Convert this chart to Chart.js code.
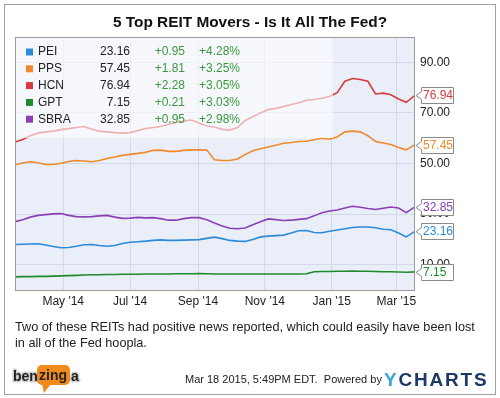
<!DOCTYPE html>
<html>
<head>
<meta charset="utf-8">
<script src="https://cdn.jsdelivr.net/npm/chart.js@4.4.1/dist/chart.umd.min.js"></script>
<style>
html,body{margin:0;padding:0;background:#fff;}
#wrap{position:relative;width:500px;height:398px;}
</style>
</head>
<body>
<div id="wrap"><canvas id="c" width="500" height="398"></canvas></div>
<script>
// x = days since Mar 18 2014 (weekly readings + last close)
const days = [0,7,14,21,28,35,42,49,56,63,70,77,84,91,98,105,112,119,126,133,140,147,154,161,168,175,182,189,196,203,210,217,224,231,238,245,252,259,266,273,280,287,294,301,308,315,322,329,336,343,350,357,365];
const tickDays = [44,105,167,228,289,348];
const tickLabels = ["May '14","Jul '14","Sep '14","Nov '14","Jan '15","Mar '15"];
const yTicks = [10,30,50,70,90];

const symbols = ['PEI','PPS','HCN','GPT','SBRA'];
const lastPrice = ['23.16','57.45','76.94','7.15','32.85'];
const changes = ['+0.95','+1.81','+2.28','+0.21','+0.95'];
const pctChanges = ['+4.28%','+3.25%','+3.05%','+3.03%','+2.98%'];
const colors = ['#2b8bd8','#f08a2a','#d43b3b','#1f8a2b','#8a40b4'];

const pei  = [18,18.1,18.2,18.3,17.8,17.2,16.7,16.8,17.3,17.9,18,17.6,17.3,17.6,18.4,18.9,19.1,19.3,19.6,19.8,19.6,19.6,19.7,19.8,19.9,20.4,20.9,20.3,19.6,19.3,19.2,20,21,21.3,21.5,21.7,22.5,23.4,23.5,22.7,22.6,23.2,23.7,24.2,24.7,24.9,24.9,24.6,24,23.8,22.5,21,23.16];
const pps  = [49.5,50.2,50.7,50.3,49.6,49.6,50.1,50.8,51.2,51,50.7,51.2,52,52.6,53.2,53.6,54,54.4,55.2,55.3,54.8,54.8,55.2,55.4,55.4,55.3,51.5,51.2,51.2,51.8,53.5,55,55.8,56.5,57.2,58,58.3,58.7,58.8,59.4,60,59.6,60.5,62.5,62.8,62.5,61,58.7,58.1,57.5,56.3,55.4,57.45];
const hcn  = [58.5,59.5,61,62,62.5,62.8,63.4,63.8,64.2,64.6,63.5,62.8,62.5,62.2,62,62.2,63,63.8,64.2,64.6,65.5,66.2,66.8,67.2,66,64.8,64.4,63.5,63.2,64.2,67,68.5,70,71.3,71.8,72.5,73.3,74,75,75.3,75.8,76.5,78,82.5,83.6,83.2,82.5,77.5,77.8,77.2,75.5,74.2,76.94];
const gpt  = [5.2,5.3,5.3,5.4,5.4,5.5,5.6,5.7,5.8,5.9,6,6,6.1,6.1,6.2,6.2,6.2,6.3,6.3,6.3,6.3,6.4,6.4,6.4,6.5,6.4,6.3,6.3,6.3,6.3,6.3,6.3,6.3,6.3,6.3,6.3,6.3,6.3,6.4,7.2,7.3,7.3,7.4,7.4,7.5,7.4,7.4,7.3,7.2,7.2,7.1,7,7.15];
const sbra = [27,27.8,28.8,29.5,29.8,30.1,30.2,29.5,29,28.9,29,29.3,29.5,28.8,28.3,28.4,28.7,28.5,28.6,28.2,27.6,27.6,28.2,28.6,28.6,27.8,26.5,25.3,24.4,24.2,24.5,25.8,27,28.1,27.8,27.5,27.6,27.9,28.2,29.3,30.5,31.2,31.6,32.4,33.1,32.7,32.2,31.8,32.3,32.8,32.4,30.6,32.85];
const series = [pei,pps,hcn,gpt,sbra];

const FONT = 'Liberation Sans, Arial, sans-serif';
Chart.defaults.font.family = FONT;
Chart.defaults.font.size = 12;
Chart.defaults.color = '#222';

// plot background + border
const frame = {
  id:'frame',
  beforeDraw(chart){
    const ctx = chart.ctx, a = chart.chartArea;
    ctx.save();
    ctx.fillStyle = '#fff'; ctx.fillRect(0,0,chart.width,chart.height);
    ctx.strokeStyle = '#a0a0a0'; ctx.lineWidth = 1;
    ctx.strokeRect(4.5,4.5,491,390);
    ctx.fillStyle = '#e9eef9';
    ctx.fillRect(a.left,a.top,a.right-a.left,a.bottom-a.top);
    ctx.restore();
  },
  afterDraw(chart){
    const ctx = chart.ctx, a = chart.chartArea;
    ctx.save();
    ctx.strokeStyle = '#9a9a9a'; ctx.lineWidth = 1;
    ctx.strokeRect(a.left+0.5,a.top+0.5,a.right-a.left-1,a.bottom-a.top);
    ctx.restore();
  }
};

// legend table overlaid on the plot
const legendBox = {
  id:'legendBox',
  afterDatasetsDraw(chart){
    const ctx = chart.ctx, a = chart.chartArea;
    ctx.save();
    ctx.fillStyle = 'rgba(255,255,255,0.6)';
    ctx.fillRect(a.left+1,a.top+1,317,100);
    ctx.font = '12px ' + FONT;
    ctx.textBaseline = 'middle';
    symbols.forEach((s,i)=>{
      const y = 52 + i*16.8;
      ctx.fillStyle = colors[i];
      ctx.fillRect(26,y-3.5,7,7);
      ctx.fillStyle = '#222';
      ctx.textAlign = 'left'; ctx.fillText(s,38,y);
      ctx.textAlign = 'right'; ctx.fillText(lastPrice[i],130,y);
      ctx.fillStyle = '#3a9a3a';
      ctx.fillText(changes[i],185,y);
      ctx.fillText(pctChanges[i],240,y);
    });
    ctx.restore();
  }
};

// last-value flags, title, footer
const extras = {
  id:'extras',
  afterDraw(chart){
    const ctx = chart.ctx, ys = chart.scales.y, a = chart.chartArea;
    ctx.save();
    ctx.font = '12px ' + FONT;
    ctx.textBaseline = 'middle'; ctx.textAlign = 'left';
    series.forEach((d,i)=>{
      const y = Math.round(ys.getPixelForValue(d[d.length-1])) + 0.5;
      const x0 = a.right + 1, x1 = x0 + 5, x2 = x1 + 32;
      ctx.beginPath();
      ctx.moveTo(x0,y); ctx.lineTo(x1+0.5,y-4); ctx.lineTo(x1+0.5,y-8);
      ctx.lineTo(x2+0.5,y-8); ctx.lineTo(x2+0.5,y+8); ctx.lineTo(x1+0.5,y+8);
      ctx.lineTo(x1+0.5,y+4); ctx.closePath();
      ctx.fillStyle = '#fff'; ctx.fill();
      ctx.strokeStyle = '#8a8a8a'; ctx.lineWidth = 1; ctx.stroke();
      ctx.fillStyle = colors[i];
      ctx.fillText(lastPrice[i], x1+2, y+0.5);
    });

    ctx.fillStyle = '#111';
    ctx.textAlign = 'center'; ctx.textBaseline = 'middle';
    ctx.font = 'bold 15.4px ' + FONT;
    ctx.fillText('5 Top REIT Movers - Is It All The Fed?', 250, 23);

    ctx.textAlign = 'left'; ctx.textBaseline = 'alphabetic';
    ctx.fillStyle = '#222';
    ctx.font = '12.7px ' + FONT;
    ctx.fillText('Two of these REITs had positive news reported, which could easily have been lost', 15, 331);
    ctx.fillText('in all of the Fed hoopla.', 15, 347);

    ctx.font = '11px ' + FONT;
    ctx.fillText('Mar 18 2015, 5:49PM EDT.  Powered by', 185, 383);

    // YCHARTS wordmark
    ctx.font = 'bold 19px ' + FONT;
    const word = 'YCHARTS';
    let x = 384;
    for(let k=0;k<word.length;k++){
      ctx.fillStyle = k===0 ? '#3aa6dc' : '#1d3a66';
      ctx.fillText(word[k], x, 386);
      x += ctx.measureText(word[k]).width + 1.8;
    }

    // benzinga wordmark
    ctx.font = 'bold 14px ' + FONT;
    ctx.lineJoin = 'round';
    ctx.strokeStyle = '#cfcfcf'; ctx.lineWidth = 3;
    ctx.strokeText('ben',13,381); ctx.fillStyle = '#222'; ctx.fillText('ben',13,381);
    ctx.fillStyle = '#f08a1c';
    ctx.beginPath();
    ctx.roundRect(37,365,33,20,5); ctx.fill();
    ctx.beginPath(); ctx.moveTo(42,384); ctx.lineTo(44,393); ctx.lineTo(51,384); ctx.closePath(); ctx.fill();
    ctx.fillStyle = '#222'; ctx.fillText('zing',39,380);
    ctx.strokeText('a',71,381); ctx.fillText('a',71,381);
    ctx.restore();
  }
};

const ds = series.map((d,i)=>({
  label: symbols[i],
  data: days.map((dd,j)=>({x:dd,y:d[j]})),
  borderColor: colors[i],
  borderWidth: 1.6,
  pointRadius: 0,
  tension: 0,
  fill: false
}));

new Chart(document.getElementById('c'), {
  type:'line',
  data:{ datasets: ds },
  options:{
    responsive:false, animation:false, devicePixelRatio:1,
    layout:{ padding:{ left:15, top:37, right:0, bottom:0 } },
    plugins:{ legend:{display:false}, tooltip:{enabled:false}, title:{display:false} },
    scales:{
      x:{
        type:'linear', min:0, max:365,
        afterBuildTicks(s){ s.ticks = tickDays.map(v=>({value:v})); },
        afterFit(s){ s.height = 108; },
        ticks:{ callback:(v,i)=>tickLabels[i], autoSkip:false, maxRotation:0, padding:4, color:'#222' },
        grid:{ color:'#d2d9e7', drawTicks:false },
        border:{ display:false }
      },
      y:{
        position:'right', min:0, max:100,
        afterBuildTicks(s){ s.ticks = yTicks.map(v=>({value:v})); },
        afterFit(s){ s.width = 85; },
        ticks:{ callback:v=>v.toFixed(2), padding:5, color:'#222' },
        grid:{ color:'#d2d9e7', drawTicks:false },
        border:{ display:false }
      }
    }
  },
  plugins:[frame, legendBox, extras]
});
</script>
</body>
</html>
